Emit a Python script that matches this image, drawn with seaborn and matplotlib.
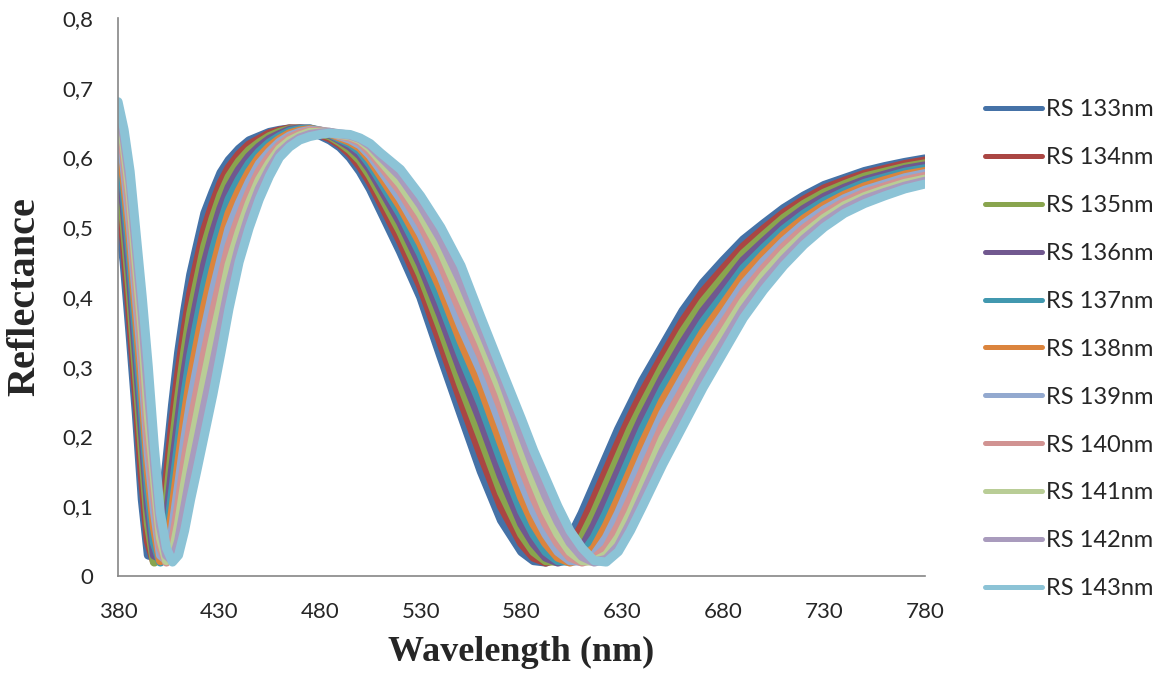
import matplotlib
matplotlib.use("Agg")
import matplotlib.pyplot as plt
import seaborn as sns
import pandas as pd

# wavelengths (nm) shared by every series
wavelength = [380, 383, 386, 389, 392, 395, 398, 401, 404, 407, 410, 413, 416, 419,
              423, 427, 431, 435, 440, 445, 450, 455, 460, 465, 470, 475, 480, 485,
              490, 495, 500, 505, 510, 520, 530,
              540, 550, 560, 570, 580, 586, 592, 598, 604, 610, 616, 622, 628, 634,
              640, 650, 660, 670, 680, 690, 700, 710, 720, 730, 740, 750, 760, 770, 780]

# reflectance, one list per layer thickness
rs133 = [.52, .45, .345, .235, .11, .03, .028, .08, .16, .245, .32, .38, .432, .47,
         .52, .55, .578, .596, .612, .624, .63, .636, .639, .641, .64, .637, .632, .625,
         .615, .60, .58, .555, .525, .465, .40,
         .315, .232, .15, .08, .035, .022, .02, .03, .055, .09, .13, .17, .21, .245,
         .28, .33, .38, .42, .452, .482, .505, .527, .545, .56, .57, .58, .587, .593, .598]
rs134 = [.555, .48, .375, .265, .145, .05, .021, .06, .13, .215, .288, .35, .405, .445,
         .497, .532, .563, .585, .604, .618, .626, .634, .638, .641, .641, .639, .634, .628,
         .619, .606, .588, .565, .537, .48, .416,
         .335, .253, .174, .10, .047, .027, .02, .025, .04, .072, .11, .15, .19, .228,
         .263, .315, .365, .407, .44, .472, .497, .52, .539, .555, .566, .576, .583, .59, .595]
rs135 = [.58, .505, .405, .295, .18, .075, .02, .04, .10, .183, .255, .32, .376, .418,
         .473, .512, .546, .572, .594, .61, .621, .63, .636, .64, .641, .64, .636, .631,
         .622, .611, .596, .574, .548, .494, .432,
         .355, .274, .198, .12, .06, .035, .022, .021, .03, .055, .09, .13, .17, .21,
         .245, .30, .35, .393, .428, .462, .488, .513, .533, .549, .561, .572, .579, .586, .591]
rs136 = [.60, .53, .432, .322, .21, .10, .03, .026, .073, .152, .222, .29, .346, .39,
         .447, .49, .527, .557, .582, .601, .615, .626, .633, .639, .641, .641, .637, .633,
         .625, .616, .603, .583, .558, .507, .447,
         .374, .295, .222, .143, .075, .047, .027, .02, .025, .04, .072, .11, .15, .19,
         .228, .284, .334, .379, .415, .452, .479, .505, .526, .543, .556, .567, .575, .583, .588]
rs137 = [.617, .55, .458, .35, .24, .125, .048, .02, .05, .12, .19, .258, .315, .36,
         .418, .465, .505, .54, .568, .591, .608, .621, .63, .637, .64, .641, .638, .634,
         .627, .62, .609, .59, .567, .519, .462,
         .393, .316, .246, .166, .093, .06, .035, .022, .021, .03, .055, .09, .13, .17,
         .21, .268, .318, .364, .402, .441, .47, .497, .519, .537, .551, .563, .571, .579, .584]
rs138 = [.632, .57, .482, .377, .27, .15, .07, .022, .033, .092, .16, .227, .283, .328,
         .387, .437, .481, .52, .552, .579, .60, .615, .626, .634, .638, .64, .638, .635,
         .629, .623, .614, .597, .575, .53, .477,
         .412, .337, .27, .19, .113, .075, .047, .027, .02, .025, .04, .072, .11, .15,
         .19, .251, .301, .349, .389, .43, .461, .489, .512, .531, .546, .558, .567, .575, .58]
rs139 = [.645, .588, .505, .402, .30, .175, .093, .03, .023, .067, .13, .195, .25, .295,
         .354, .407, .454, .498, .534, .565, .591, .608, .622, .631, .636, .639, .638, .636,
         .631, .626, .618, .603, .583, .541, .491,
         .43, .358, .293, .215, .135, .093, .06, .035, .022, .021, .03, .055, .09, .13,
         .17, .233, .284, .333, .375, .418, .451, .48, .505, .525, .541, .553, .562, .571, .577]
rs140 = [.655, .603, .527, .425, .325, .20, .117, .042, .02, .047, .10, .163, .216, .26,
         .32, .375, .425, .473, .514, .55, .58, .601, .617, .628, .634, .638, .637, .636,
         .632, .629, .622, .608, .59, .552, .505,
         .448, .379, .315, .24, .157, .113, .075, .047, .027, .02, .025, .04, .072, .11,
         .15, .215, .267, .318, .362, .406, .441, .472, .498, .519, .536, .549, .558, .567, .573]
rs141 = [.664, .617, .546, .448, .35, .23, .14, .055, .022, .031, .075, .132, .181, .225,
         .284, .34, .392, .446, .493, .534, .568, .592, .612, .624, .631, .636, .636, .636,
         .633, .631, .625, .613, .596, .562, .519,
         .466, .40, .335, .263, .18, .135, .093, .06, .035, .022, .021, .03, .055, .09,
         .13, .197, .25, .302, .348, .394, .431, .463, .49, .513, .531, .544, .554, .563, .569]
rs142 = [.672, .629, .563, .47, .375, .265, .162, .072, .03, .022, .05, .098, .146, .188,
         .245, .30, .357, .415, .471, .517, .555, .583, .606, .619, .628, .633, .635, .636,
         .634, .632, .627, .617, .602, .573, .532,
         .483, .422, .353, .283, .203, .157, .115, .078, .048, .028, .02, .024, .043, .076,
         .114, .178, .233, .286, .334, .382, .421, .454, .483, .507, .526, .54, .55, .559, .566]
rs143 = [.68, .64, .58, .49, .40, .30, .185, .09, .04, .02, .03, .065, .11, .15,
         .205, .26, .32, .383, .45, .499, .54, .573, .60, .615, .625, .63, .633, .635,
         .634, .633, .628, .62, .607, .583, .545,
         .50, .445, .37, .297, .225, .18, .14, .10, .065, .04, .022, .02, .035, .065,
         .10, .16, .215, .27, .32, .37, .41, .445, .475, .50, .52, .534, .545, .555, .562]

series_names = ["RS 133nm", "RS 134nm", "RS 135nm", "RS 136nm", "RS 137nm", "RS 138nm",
                "RS 139nm", "RS 140nm", "RS 141nm", "RS 142nm", "RS 143nm"]
series_values = [rs133, rs134, rs135, rs136, rs137, rs138, rs139, rs140, rs141, rs142, rs143]
colors = ["#4572A7", "#AA4643", "#89A54E", "#71588F", "#4198AF", "#DB843D",
          "#93A9CF", "#D19392", "#B9CD96", "#A99BBD", "#8CC3D6"]

y_ticks = [0, 0.1, 0.2, 0.3, 0.4, 0.5, 0.6, 0.7, 0.8]
y_tick_labels = ["0", "0,1", "0,2", "0,3", "0,4", "0,5", "0,6", "0,7", "0,8"]
x_ticks = [380, 430, 480, 530, 580, 630, 680, 730, 780]

rows = []
for name, vals in zip(series_names, series_values):
    for w, r in zip(wavelength, vals):
        rows.append((name, w, r))
df = pd.DataFrame(rows, columns=["series", "wavelength", "reflectance"])

sns.set_style("white")
plt.rcParams["font.family"] = ["Lato", "DejaVu Sans"]

fig = plt.figure(figsize=(11.63, 6.82), dpi=100)
ax = fig.add_axes([0.1015, 0.1554, 0.6939, 0.8182])

sns.lineplot(data=df, x="wavelength", y="reflectance", hue="series",
             hue_order=series_names, palette=colors, linewidth=6.5,
             estimator=None, ax=ax)
for line in ax.lines:
    line.set_solid_joinstyle("round")

ax.set_xlim(380, 780)
ax.set_ylim(0, 0.8)
ax.set_xticks(x_ticks)
ax.set_xticklabels([str(v) for v in x_ticks])
ax.set_yticks(y_ticks)
ax.set_yticklabels(y_tick_labels)
ax.tick_params(axis="y", length=0, pad=18, labelsize=16)
ax.tick_params(axis="x", length=0, pad=19, labelsize=16)

for side in ["top", "right"]:
    ax.spines[side].set_visible(False)
for side in ["left", "bottom"]:
    ax.spines[side].set_color("#868686")
    ax.spines[side].set_linewidth(1.2)

serif = ["Liberation Serif", "DejaVu Serif"]
ax.set_xlabel("Wavelength (nm)", fontsize=26, fontweight="bold", family=serif)
ax.set_ylabel("Reflectance", fontsize=29, fontweight="bold", family=serif)
ax.xaxis.set_label_coords(0.5, -0.108)
ax.yaxis.set_label_coords(-0.093, 0.5)

handles, labels = ax.get_legend_handles_labels()
ax.get_legend().remove()
leg = fig.legend(handles, labels, loc="center left", bbox_to_anchor=(0.847, 0.488),
                 frameon=False, fontsize=17, handlelength=2.4, handletextpad=0.2,
                 labelspacing=1.14, borderaxespad=0, borderpad=0)
for h in leg.get_lines():
    h.set_linewidth(3.6)
    h.set_solid_capstyle("round")

fig.savefig("out.png", dpi=100)
